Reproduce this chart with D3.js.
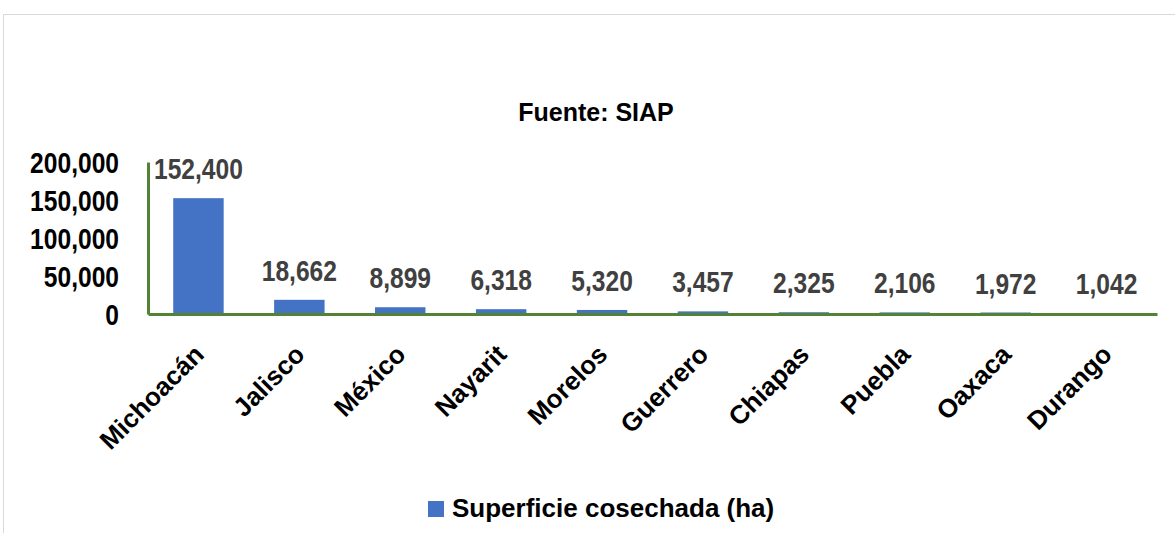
<!DOCTYPE html>
<html><head><meta charset="utf-8">
<script src="https://cdn.jsdelivr.net/npm/d3@7"></script>
<style>body{margin:0;background:#fff}svg{display:block}</style>
</head><body>
<svg id="c" width="1175" height="533"></svg>
<script>
const categories = ["Michoacán","Jalisco","México","Nayarit","Morelos","Guerrero","Chiapas","Puebla","Oaxaca","Durango"];
const values = [152400,18662,8899,6318,5320,3457,2325,2106,1972,1042];
const yTicks = [0,50000,100000,150000,200000];
const seriesName = "Superficie cosechada (ha)";
const title = "Fuente: SIAP";

const svg = d3.select("#c");
const W = 1175, H = 533;
const margin = {left:148, right:1157, top:162, bottom:314};
const sans = "'Liberation Sans',Arial,sans-serif";
const green = "#548235", blue = "#4472c4";
const NS = 0.82; // narrow horizontal scale

// outer frame
svg.append("rect").attr("x",3.5).attr("y",14.5).attr("width",W).attr("height",H)
  .attr("fill","none").attr("stroke","#d9d9d9").attr("stroke-width",1);

const x = d3.scaleBand().domain(categories).range([margin.left, margin.right]).paddingInner(0.5).paddingOuter(0.25);
const y = d3.scaleLinear().domain([0,200000]).range([margin.bottom, margin.top]);

// bars
svg.append("g").selectAll("rect").data(values).join("rect")
  .attr("x",(d,i)=>x(categories[i])).attr("width",x.bandwidth())
  .attr("y",d=>y(d)).attr("height",d=>y(0)-y(d)).attr("fill",blue);

// value labels
svg.append("g").selectAll("text").data(values).join("text")
  .attr("transform",(d,i)=>`translate(${x(categories[i])+x.bandwidth()/2},${y(d)-19}) scale(${NS},1)`)
  .attr("text-anchor","middle").attr("fill","#404040")
  .style("font-family",sans).style("font-weight","bold").style("font-size","30px")
  .text(d=>d3.format(",")(d));

// y axis
const ya = svg.append("g").attr("transform",`translate(${margin.left},0)`)
  .call(d3.axisLeft(y).tickValues(yTicks).tickSize(0).tickPadding(0).tickFormat(d3.format(",")));
ya.select(".domain").attr("stroke",green).attr("stroke-width",3);
ya.selectAll("text").attr("fill","#000").style("font-family",sans).style("font-weight","bold").style("font-size","30px")
  .attr("x",-29/NS).attr("dy","0.35em").attr("transform",`scale(${NS},1)`);

// x axis
const xa = svg.append("g").attr("transform",`translate(0,${margin.bottom})`)
  .call(d3.axisBottom(x).tickSize(0).tickPadding(0));
xa.select(".domain").attr("stroke",green).attr("stroke-width",3);
xa.selectAll("text").attr("fill","#000").style("font-family",sans).style("font-weight","bold").style("font-size","26px")
  .attr("text-anchor","end").attr("dy",null).attr("y",0)
  .attr("transform","translate(7,42) rotate(-45)");

// title
svg.append("text").attr("x",596).attr("y",121).attr("text-anchor","middle")
  .style("font-family",sans).style("font-weight","bold").style("font-size","25px").text(title);

// legend
svg.append("rect").attr("x",428).attr("y",501).attr("width",16).attr("height",16).attr("fill",blue);
svg.append("text").attr("x",452).attr("y",517)
  .style("font-family",sans).style("font-weight","bold").style("font-size","26px").text(seriesName);
</script>
</body></html>
